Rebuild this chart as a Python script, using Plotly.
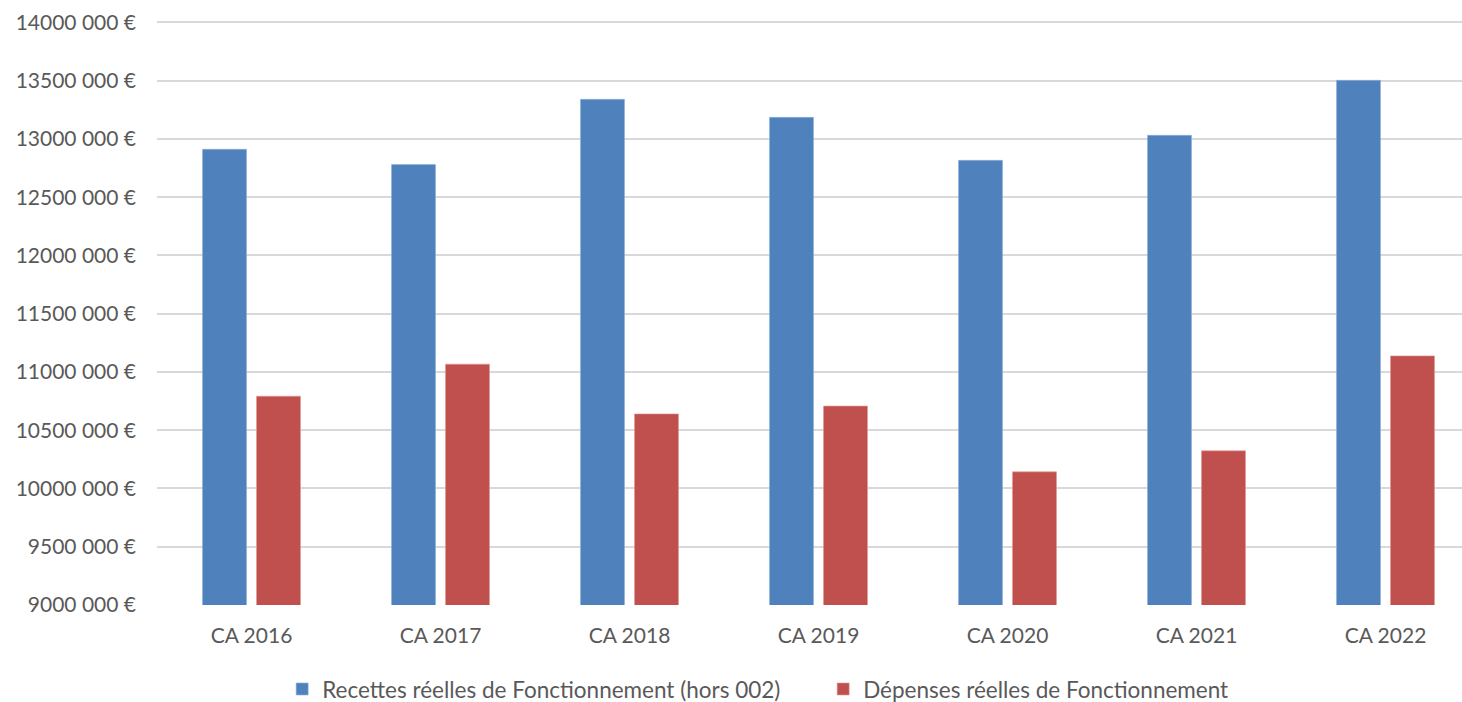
import plotly.graph_objects as go

# Comptes administratifs : recettes et dépenses réelles de fonctionnement
categories = ["CA 2016", "CA 2017", "CA 2018", "CA 2019", "CA 2020", "CA 2021", "CA 2022"]
recettes = [12911000, 12780000, 13340000, 13185000, 12816000, 13031000, 13503000]
depenses = [10792000, 11067000, 10640000, 10707000, 10143000, 10323000, 11138000]

tick_values = [9000000, 9500000, 10000000, 10500000, 11000000, 11500000,
               12000000, 12500000, 13000000, 13500000, 14000000]
tick_labels = ["9000 000 €", "9500 000 €", "10000 000 €", "10500 000 €", "11000 000 €",
               "11500 000 €", "12000 000 €", "12500 000 €", "13000 000 €", "13500 000 €",
               "14000 000 €"]

BLUE = "#4F81BD"
RED = "#C0504D"
TEXT = "#595959"
GRID = "#D9D9D9"
FONT = "Lato, 'Open Sans', sans-serif"

fig = go.Figure()
fig.add_trace(go.Bar(
    x=categories, y=recettes, name="Recettes réelles de Fonctionnement (hors 002)",
    marker=dict(color=BLUE, line=dict(color="#8FB0DA", width=0.6)),
))
fig.add_trace(go.Bar(
    x=categories, y=depenses, name="Dépenses réelles de Fonctionnement",
    marker=dict(color=RED, line=dict(color="#E09A98", width=0.6)),
))

W, H = 1462, 702
plot_left, plot_right = 157, 1462
cat_w = 189.0
# the last category slot runs past the right edge of the chart
x_max = -0.5 + (plot_right - plot_left) / cat_w

# a hair of headroom so the top gridline is drawn
y_top = 14012000

fig.update_layout(
    width=W, height=H,
    barmode="group", bargap=0.4286, bargroupgap=0.185,
    paper_bgcolor="white", plot_bgcolor="white",
    margin=dict(l=plot_left, r=W - plot_right, t=21, b=97),
    font=dict(family=FONT, size=21, color=TEXT),
    showlegend=True,
    legend=dict(
        orientation="h", xref="container", yref="container",
        x=0.193, xanchor="left", y=0.018, yanchor="middle",
        font=dict(family=FONT, size=22.5, color=TEXT),
        itemwidth=30, traceorder="normal",
        entrywidthmode="pixels", entrywidth=496,
    ),
    xaxis=dict(
        range=[-0.5, x_max], showgrid=False, zeroline=False, showline=False,
        ticks="", ticklabelstandoff=16,
        tickfont=dict(family=FONT, size=21, color=TEXT),
    ),
    yaxis=dict(
        range=[9000000, y_top], tickmode="array",
        tickvals=tick_values, ticktext=tick_labels,
        showgrid=True, gridcolor=GRID, gridwidth=2,
        zeroline=False, showline=False, ticks="", ticklabelstandoff=20,
        tickfont=dict(family=FONT, size=21, color=TEXT),
    ),
)

fig.write_html("out.html")
